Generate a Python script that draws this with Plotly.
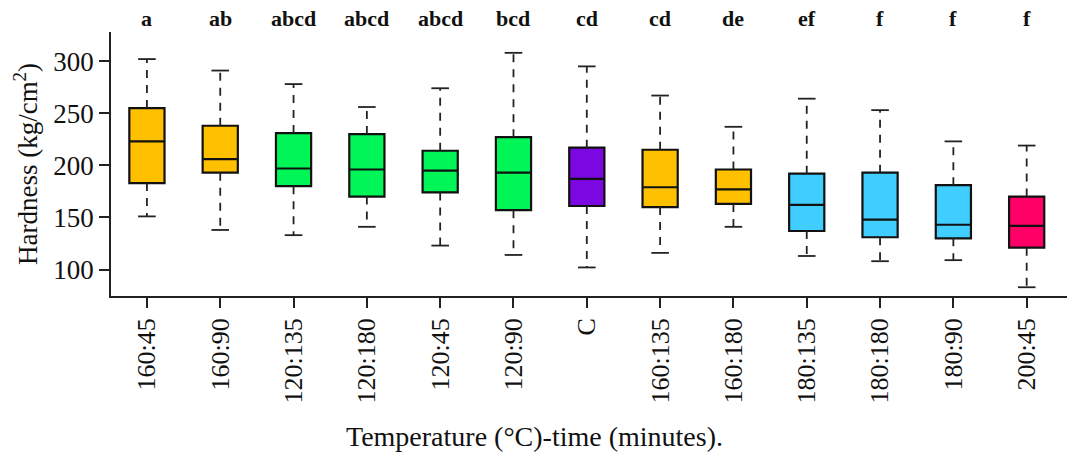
import plotly.graph_objects as go

categories = ["160:45", "160:90", "120:135", "120:180", "120:45", "120:90", "C",
              "160:135", "160:180", "180:135", "180:180", "180:90", "200:45"]
upper = [302, 291, 278, 256, 274, 308, 295, 267, 237, 264, 253, 223, 219]
q3 = [255, 238, 231, 230, 214, 227, 217, 215, 196, 192, 193, 181, 170]
median = [223, 206, 197, 196, 195, 193, 187, 179, 177, 162, 148, 143, 142]
q1 = [183, 193, 180, 170, 174, 157, 161, 160, 163, 137, 131, 130, 121]
lower = [151, 138, 133, 141, 123, 114, 102, 116, 141, 113, 108, 109, 83]
letters = ["a", "ab", "abcd", "abcd", "abcd", "bcd", "cd", "cd", "de", "ef", "f", "f", "f"]
group_colors = ["#FFC000", "#FFC000", "#00F557", "#00F557", "#00F557", "#00F557", "#7B07E3",
                "#FFC000", "#FFC000", "#40CDFF", "#40CDFF", "#40CDFF", "#FF0066"]

BOX_W = 0.48
CAP_HALF = 0.12
FONT = "Liberation Serif"

fig = go.Figure()
xs = list(range(len(categories)))

for i, c in enumerate(categories):
    fig.add_trace(go.Box(
        x=[i], q1=[q1[i]], median=[median[i]], q3=[q3[i]],
        lowerfence=[q1[i]], upperfence=[q3[i]],
        width=BOX_W, whiskerwidth=0, fillcolor=group_colors[i],
        line=dict(color="#111111", width=2.2), name=c, showlegend=False,
        hoverinfo="skip"))

wx, wy, cx, cy = [], [], [], []
for i in xs:
    wx += [i, i, None, i, i, None]
    wy += [q3[i], upper[i], None, q1[i], lower[i], None]
    cx += [i - CAP_HALF, i + CAP_HALF, None, i - CAP_HALF, i + CAP_HALF, None]
    cy += [upper[i], upper[i], None, lower[i], lower[i], None]

fig.add_trace(go.Scatter(x=wx, y=wy, mode="lines", showlegend=False, hoverinfo="skip",
                         line=dict(color="#222222", width=1.8, dash="8px,7px")))
fig.add_trace(go.Scatter(x=cx, y=cy, mode="lines", showlegend=False, hoverinfo="skip",
                         line=dict(color="#222222", width=1.8)))

for i, t in enumerate(letters):
    fig.add_annotation(x=i, y=1.05, xref="x", yref="paper", text=f"<b>{t}</b>",
                       showarrow=False, yanchor="middle",
                       font=dict(family=FONT, size=22, color="#111111"))

fig.add_annotation(x=0.4435, y=-0.534, xref="paper", yref="paper",
                   text="Temperature (°C)-time (minutes).", showarrow=False,
                   xanchor="center", yanchor="middle",
                   font=dict(family=FONT, size=28, color="#111111"))

fig.update_layout(
    width=1067, height=454,
    margin=dict(l=111, r=0, t=32, b=158),
    plot_bgcolor="white", paper_bgcolor="white",
    font=dict(family=FONT, color="#111111"),
    xaxis=dict(range=[-0.49, 12.55], tickmode="array", tickvals=xs, ticktext=categories,
               tickangle=-90, ticks="outside", ticklen=10, tickwidth=1.5, tickcolor="#222222",
               showline=True, linecolor="#222222", linewidth=1.5, showgrid=False, zeroline=False,
               tickfont=dict(family=FONT, size=26, color="#111111")),
    yaxis=dict(range=[74.6, 328], tickmode="array", tickvals=[100, 150, 200, 250, 300],
               ticks="outside", ticklen=10, tickwidth=1.5, tickcolor="#222222",
               showline=True, linecolor="#222222", linewidth=1.5, showgrid=False, zeroline=False,
               tickfont=dict(family=FONT, size=27, color="#111111"),
               title=dict(text="Hardness (kg/cm<sup>2</sup>)", standoff=8,
                          font=dict(family=FONT, size=27, color="#111111"))),
)

fig.write_html("out.html", config={"displayModeBar": False},
               post_script="document.body.style.margin='0';")
